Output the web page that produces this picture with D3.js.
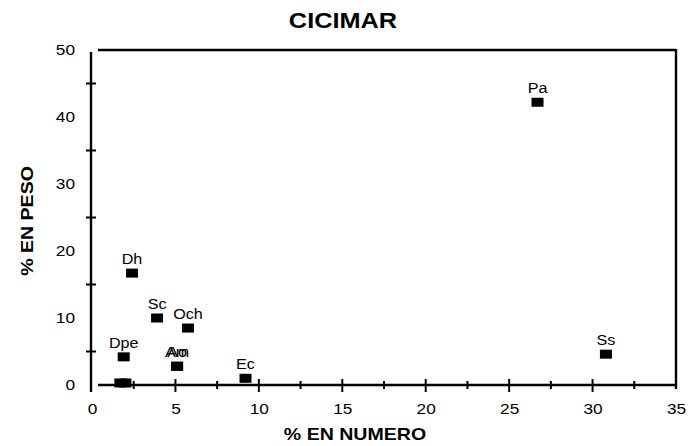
<!DOCTYPE html>
<html>
<head>
<meta charset="utf-8">
<script src="https://cdn.jsdelivr.net/npm/d3@7"></script>
<style>
  html, body { margin: 0; padding: 0; background: #fff; }
  svg text { font-family: "Liberation Sans", Arial, sans-serif; fill: #000; }
</style>
</head>
<body>
<svg id="chart" width="697" height="446"></svg>
<script>
// ---- data ----
const species   = ["Pa", "Ss", "Dh", "Sc", "Och", "Dpe", "Ao", "Am", "Ec", "", ""];
const pctNumero = [26.7, 30.8, 2.4, 3.9, 5.75, 1.9, 5.1, 5.1, 9.2, 1.7, 2.0];
const pctPeso   = [42.2, 4.6, 16.7, 10.0, 8.5, 4.2, 2.8, 2.8, 1.0, 0.3, 0.3];
const xTickLabels = [0, 5, 10, 15, 20, 25, 30, 35];
const xMinorTicks = [2.5, 5, 7.5, 10, 12.5, 15, 17.5, 20, 22.5, 25, 27.5, 30, 32.5];
const yTickLabels = [0, 10, 20, 30, 40, 50];
const yMinorTicks = [5, 15, 25, 35, 45];
const title = "CICIMAR";
const xTitle = "% EN NUMERO";
const yTitle = "% EN PESO";

const STRETCH = 1.15;
const svg = d3.select("#chart");
const x = d3.scaleLinear().domain([0, 35]).range([92, 676]);
const y = d3.scaleLinear().domain([0, 50]).range([385, 50]);

function stretch(sel) {
  sel.each(function () {
    const w = this.getComputedTextLength();
    this.setAttribute("textLength", w * STRETCH);
    this.setAttribute("lengthAdjust", "spacingAndGlyphs");
  });
}

// frame lines
const lw = 2.4;
svg.append("line").attr("x1", 98).attr("x2", x(35)).attr("y1", y(50)).attr("y2", y(50))
  .attr("stroke", "#000").attr("stroke-width", lw);
svg.append("line").attr("x1", x(35)).attr("x2", x(35)).attr("y1", y(50) - 1).attr("y2", y(0) + 4)
  .attr("stroke", "#000").attr("stroke-width", lw);
svg.append("line").attr("x1", 98).attr("x2", x(35)).attr("y1", y(0)).attr("y2", y(0))
  .attr("stroke", "#000").attr("stroke-width", lw);
svg.append("line").attr("x1", 91).attr("x2", 91).attr("y1", y(50) + 2).attr("y2", y(0) + 7)
  .attr("stroke", "#000").attr("stroke-width", lw);

// x axis tick labels via d3 axis
const gx = svg.append("g").attr("transform", `translate(0,${y(0) + 8})`)
  .call(d3.axisBottom(x).tickValues(xTickLabels).tickSize(0).tickPadding(10).tickFormat(d3.format("d")));
gx.select(".domain").remove();
gx.selectAll("text").attr("font-size", 15).attr("font-family", "Liberation Sans, Arial, sans-serif").call(stretch);

// x ticks crossing the axis
svg.append("g").selectAll("line").data(xMinorTicks).join("line")
  .attr("x1", d => x(d)).attr("x2", d => x(d))
  .attr("y1", d => y(0) - (d % 5 === 0 ? 6 : 4))
  .attr("y2", d => y(0) + (d % 5 === 0 ? 7 : 4))
  .attr("stroke", "#000").attr("stroke-width", 2);

// y axis tick labels via d3 axis
const gy = svg.append("g").attr("transform", `translate(91,0)`)
  .call(d3.axisLeft(y).tickValues(yTickLabels).tickSize(0).tickPadding(16).tickFormat(d3.format("d")));
gy.select(".domain").remove();
gy.selectAll("text").attr("font-size", 15).attr("font-family", "Liberation Sans, Arial, sans-serif")
  .attr("text-anchor", "end").call(stretch);

// y ticks crossing the axis
svg.append("g").selectAll("line").data(yMinorTicks).join("line")
  .attr("x1", 86).attr("x2", 96)
  .attr("y1", d => y(d)).attr("y2", d => y(d))
  .attr("stroke", "#000").attr("stroke-width", 2);

// points
const pts = species.map((s, i) => ({ s, xv: pctNumero[i], yv: pctPeso[i] }));
svg.append("g").selectAll("rect").data(pts).join("rect")
  .attr("x", d => x(d.xv) - 6).attr("y", d => y(d.yv) - 4.5)
  .attr("width", 12).attr("height", 9).attr("fill", "#000");

svg.append("g").selectAll("text").data(pts.filter(d => d.s)).join("text")
  .attr("x", d => x(d.xv)).attr("y", d => y(d.yv) - 9)
  .attr("text-anchor", "middle").attr("font-size", 14)
  .text(d => d.s).call(stretch);

// titles
svg.append("text").attr("x", 343).attr("y", 28).attr("text-anchor", "middle")
  .attr("font-size", 22).attr("font-weight", "bold").text(title).call(stretch);
svg.append("text").attr("x", 355).attr("y", 440).attr("text-anchor", "middle")
  .attr("font-size", 17).attr("font-weight", "bold").text(xTitle).call(stretch);
svg.append("text").attr("transform", "translate(33,221) rotate(-90)").attr("text-anchor", "middle")
  .attr("font-size", 17).attr("font-weight", "bold").text(yTitle).call(stretch);
</script>
</body>
</html>
